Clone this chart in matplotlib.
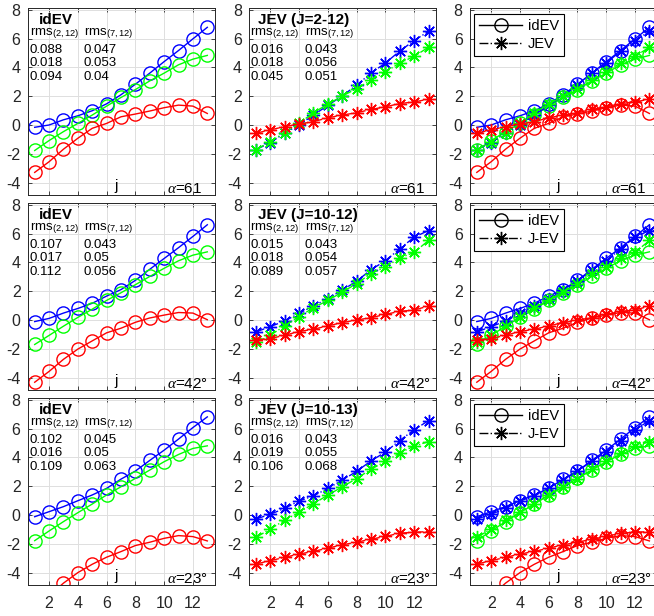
import numpy as np
import matplotlib
matplotlib.use('Agg')
import matplotlib.pyplot as plt

plt.rcParams['font.family'] = ['Liberation Sans', 'DejaVu Sans']
plt.rcParams['mathtext.fontset'] = 'custom'
plt.rcParams['mathtext.rm'] = 'Liberation Sans'
plt.rcParams['mathtext.it'] = 'Liberation Serif:italic'
plt.rcParams['mathtext.bf'] = 'Liberation Sans:bold'
plt.rcParams['axes.unicode_minus'] = False

# x positions
j = [1, 2, 3, 4, 5, 6, 7, 8, 9, 10, 11, 12, 13]

# --- alpha = 61 ---
id61_blue = [-0.16, 0.0, 0.36, 0.64, 0.99, 1.47, 2.1, 2.83, 3.6, 4.4, 5.17, 5.98, 6.78]
id61_green = [-1.77, -1.08, -0.46, 0.11, 0.69, 1.31, 1.91, 2.46, 3.06, 3.6, 4.18, 4.57, 4.83]
id61_red = [-3.29, -2.55, -1.68, -0.92, -0.23, 0.11, 0.57, 0.76, 0.97, 1.2, 1.38, 1.31, 0.8]
je61_blue = [-1.72, -1.22, -0.57, 0.0, 0.69, 1.36, 2.02, 2.76, 3.6, 4.3, 5.13, 5.86, 6.5]
je61_green = [-1.72, -1.15, -0.53, 0.11, 0.85, 1.45, 2.0, 2.53, 3.1, 3.68, 4.3, 4.76, 5.4]
je61_red = [-0.57, -0.34, -0.11, 0.07, 0.23, 0.5, 0.69, 0.85, 1.08, 1.26, 1.49, 1.6, 1.79]

# --- alpha = 42 ---
id42_blue = [-0.11, 0.11, 0.48, 0.8, 1.16, 1.66, 2.11, 2.75, 3.52, 4.27, 5.02, 5.8, 6.61]
id42_green = [-1.7, -1.07, -0.43, 0.18, 0.75, 1.36, 1.89, 2.45, 3.02, 3.59, 4.11, 4.5, 4.73]
id42_red = [-4.32, -3.57, -2.73, -2.02, -1.45, -0.89, -0.57, -0.16, 0.14, 0.34, 0.52, 0.48, 0.02]
je42_blue = [-0.83, -0.46, -0.07, 0.46, 0.97, 1.49, 2.07, 2.69, 3.49, 4.11, 4.94, 5.75, 6.21]
je42_green = [-1.56, -1.06, -0.41, 0.23, 0.85, 1.36, 1.93, 2.53, 3.22, 3.68, 4.3, 4.69, 5.52]
je42_red = [-1.38, -1.29, -1.06, -0.8, -0.64, -0.41, -0.18, 0.0, 0.16, 0.39, 0.6, 0.69, 0.97]

# --- alpha = 23 ---
id23_blue = [-0.12, 0.23, 0.58, 0.99, 1.39, 1.85, 2.49, 3.05, 3.79, 4.5, 5.27, 6.07, 6.81]
id23_green = [-1.78, -1.11, -0.46, 0.16, 0.76, 1.39, 1.96, 2.54, 3.12, 3.7, 4.2, 4.62, 4.8]
id23_red = [-6.6, -5.6, -4.73, -4.0, -3.42, -2.93, -2.54, -2.12, -1.89, -1.62, -1.43, -1.5, -1.8]
je23_blue = [-0.28, 0.05, 0.46, 0.97, 1.33, 1.84, 2.41, 3.03, 3.75, 4.37, 5.17, 5.91, 6.55]
je23_green = [-1.56, -0.97, -0.37, 0.18, 0.78, 1.38, 1.95, 2.53, 3.17, 3.72, 4.3, 4.78, 5.1]
je23_red = [-3.4, -3.17, -2.94, -2.71, -2.53, -2.3, -2.07, -1.89, -1.68, -1.49, -1.26, -1.2, -1.15]

# rms tables (blue, green, red rows)
rms_id61 = ([0.088, 0.018, 0.094], [0.047, 0.053, 0.04])
rms_je61 = ([0.016, 0.018, 0.045], [0.043, 0.056, 0.051])
rms_id42 = ([0.107, 0.017, 0.112], [0.043, 0.05, 0.056])
rms_je42 = ([0.015, 0.018, 0.089], [0.043, 0.054, 0.057])
rms_id23 = ([0.102, 0.016, 0.109], [0.045, 0.05, 0.063])
rms_je23 = ([0.016, 0.019, 0.106], [0.043, 0.055, 0.068])

je_titles = ['JEV (J=2-12)', 'JEV (J=10-12)', 'JEV (J=10-13)']
je_legend = ['JEV', 'J-EV', 'J-EV']
alpha_labels = [r'$\alpha$=61', r'$\alpha$=42°', r'$\alpha$=23°']

rows = [
    ((id61_blue, id61_green, id61_red), (je61_blue, je61_green, je61_red), rms_id61, rms_je61),
    ((id42_blue, id42_green, id42_red), (je42_blue, je42_green, je42_red), rms_id42, rms_je42),
    ((id23_blue, id23_green, id23_red), (je23_blue, je23_green, je23_red), rms_id23, rms_je23),
]

colors = [(0, 0, 1), (0, 1, 0), (1, 0, 0)]
ASTER = (8, 2, 0)

W, H = 654, 616
fig = plt.figure(figsize=(W / 100, H / 100), dpi=100)

col_left = [27.5, 248.7, 469.6]
row_top = [8.3, 203.3, 398.3]
size = 187.0


def make_axes(left, top, bottom_row):
    ax = fig.add_axes([left / W, (H - top - size) / H, size / W, size / H])
    ax.set_xlim(0.5, 13.5)
    ax.set_ylim(-4.88, 8.1)
    ax.set_xticks([2, 4, 6, 8, 10, 12])
    ax.set_yticks([-4, -2, 0, 2, 4, 6, 8])
    ax.grid(True, color=(0.87, 0.87, 0.87), linewidth=0.7)
    ax.set_axisbelow(True)
    ax.tick_params(direction='in', length=3, width=0.6, top=True, right=True,
                   labelsize=11.5, colors=(0.15, 0.15, 0.15), pad=5)
    ax.tick_params(axis='x', pad=8)
    if not bottom_row:
        ax.set_xticklabels([])
    for s in ax.spines.values():
        s.set_color((0.15, 0.15, 0.15))
        s.set_linewidth(0.7)
    return ax


def rms_text(ax, title, rms, x0, x1, tx):
    ax.text(tx, 0.94, title, transform=ax.transAxes, fontsize=11,
            fontweight='bold', va='center', ha='left')
    ax.text(x0, 0.868, r'rms$_{(2,12)}$', transform=ax.transAxes,
            fontsize=9.5, va='center', ha='left')
    ax.text(x1, 0.868, r'rms$_{(7,12)}$', transform=ax.transAxes,
            fontsize=9.5, va='center', ha='left')
    for k, yy in enumerate([0.777, 0.705, 0.633]):
        ax.text(x0, yy, str(rms[0][k]), transform=ax.transAxes,
                fontsize=9.5, va='center', ha='left')
        ax.text(x1, yy, str(rms[1][k]), transform=ax.transAxes,
                fontsize=9.5, va='center', ha='left')


def plot_id(ax, series):
    for y, c in zip(series, colors):
        ax.plot(j, y, '-', color=c, marker='o', markersize=9.5,
                markerfacecolor='none', markeredgewidth=1.0, linewidth=1.0)


def plot_je(ax, series):
    for y, c in zip(series, colors):
        ax.plot(j, y, '-.', color=c, marker=ASTER, markersize=9.5,
                markeredgewidth=1.0, linewidth=1.0)


for r, (ids, jes, rms_i, rms_j) in enumerate(rows):
    bottom = r == 2
    ax1 = make_axes(col_left[0], row_top[r], bottom)
    plot_id(ax1, ids)
    rms_text(ax1, 'idEV', rms_i, 0.012, 0.30, 0.06)
    ax1.text(6.65, -4.75, 'j', fontsize=11, va='bottom', ha='center')
    ax1.text(0.745, 0.035, alpha_labels[r], transform=ax1.transAxes,
             fontsize=11, va='center', ha='left')

    ax2 = make_axes(col_left[1], row_top[r], bottom)
    plot_je(ax2, jes)
    rms_text(ax2, je_titles[r], rms_j, 0.008, 0.30, 0.048)
    ax2.text(0.755, 0.035, alpha_labels[r], transform=ax2.transAxes,
             fontsize=11, va='center', ha='left')

    ax3 = make_axes(col_left[2], row_top[r], bottom)
    plot_id(ax3, ids)
    plot_je(ax3, jes)
    ax3.text(6.65, -4.75, 'j', fontsize=11, va='bottom', ha='center')
    ax3.text(0.755, 0.035, alpha_labels[r], transform=ax3.transAxes,
             fontsize=11, va='center', ha='left')
    h1, = ax3.plot([], [], '-', color='k', marker='o', markersize=9.5,
                   markerfacecolor='none', linewidth=1.0)
    h2, = ax3.plot([], [], '-.', color='k', marker=ASTER, markersize=9.5,
                   linewidth=1.0)
    leg = ax3.legend([h1, h2], ['idEV', je_legend[r]], loc='upper left',
                     bbox_to_anchor=(0.025, 0.97), fontsize=10.5,
                     handlelength=2.9, fancybox=False, framealpha=1,
                     borderaxespad=0, borderpad=0.35, labelspacing=0.3,
                     handletextpad=0.4)
    leg.get_frame().set_edgecolor('k')
    leg.get_frame().set_linewidth(0.8)

fig.savefig('out.png', dpi=100)
